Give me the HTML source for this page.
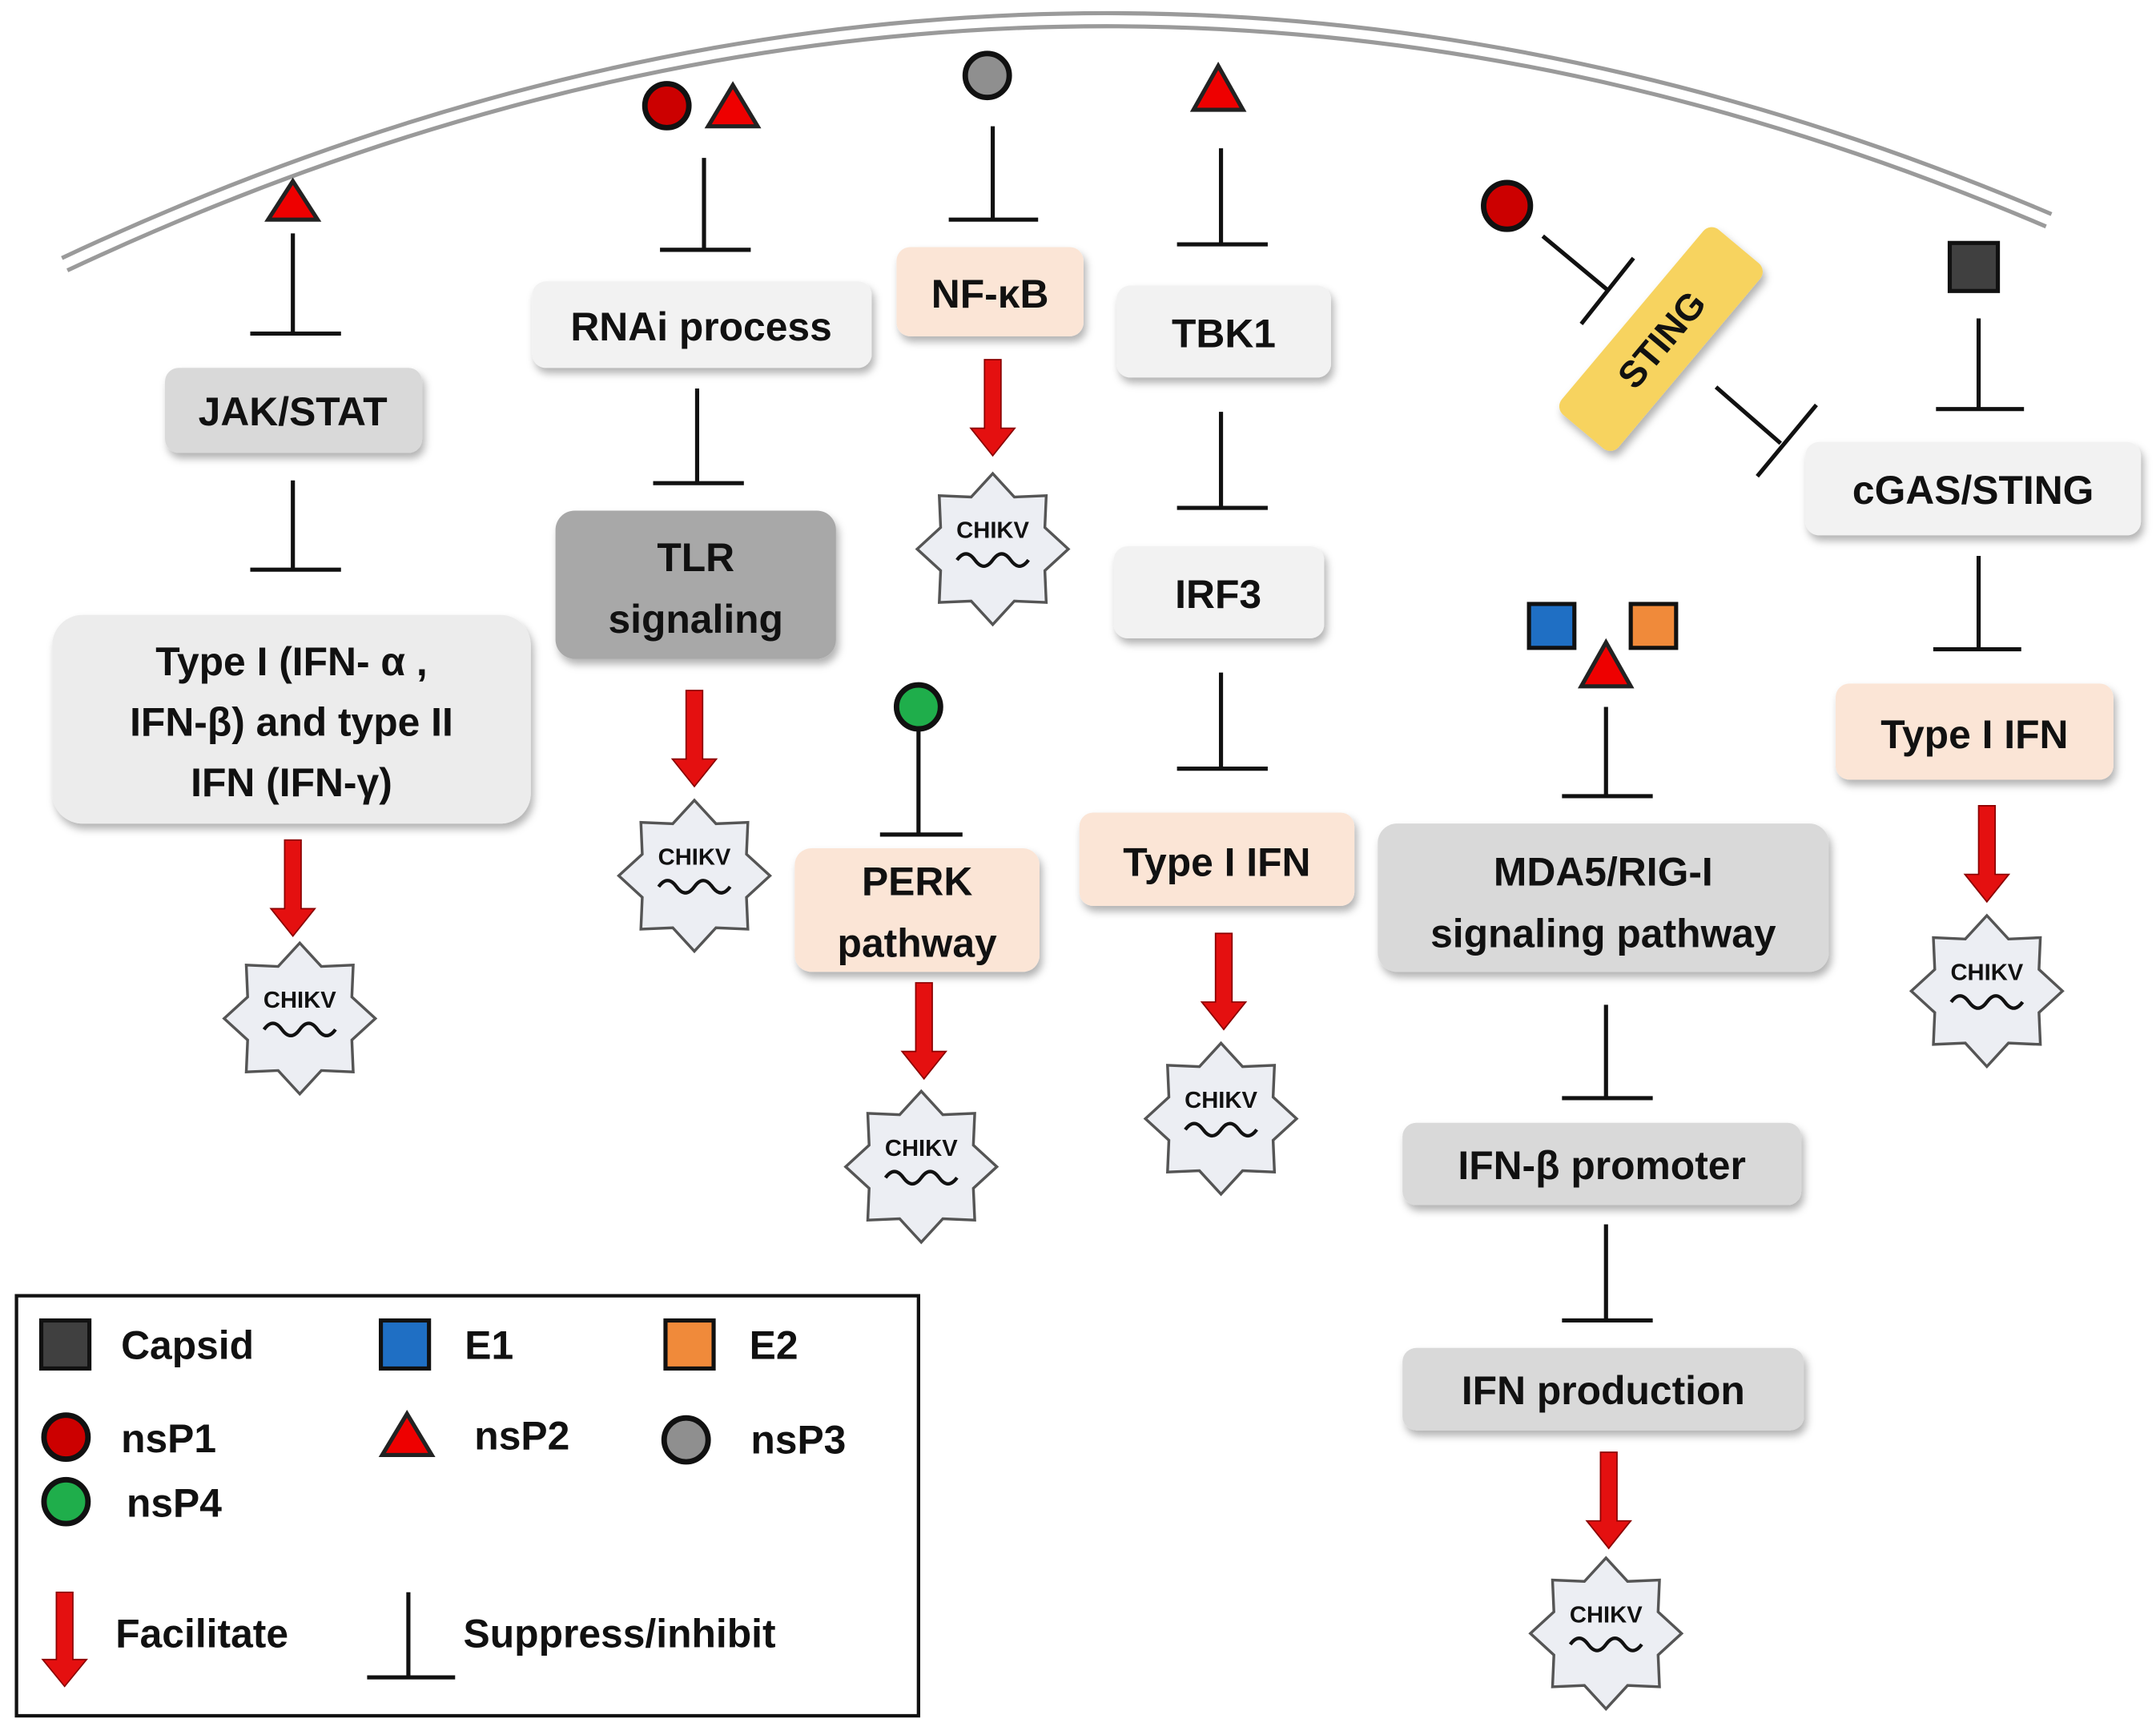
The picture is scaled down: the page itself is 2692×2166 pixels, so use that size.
<!DOCTYPE html>
<html><head><meta charset="utf-8"><style>
html,body{margin:0;padding:0;background:#fff}
svg{display:block}
text{font-family:"Liberation Sans",sans-serif;font-weight:bold;fill:#111}
</style></head><body>
<svg width="2692" height="2166" viewBox="0 0 1568 1264" preserveAspectRatio="none" xmlns="http://www.w3.org/2000/svg">
<defs>
<filter id="sh" x="-10%" y="-10%" width="130%" height="140%"><feDropShadow dx="2" dy="4" stdDeviation="3" flood-color="#000" flood-opacity="0.3"/></filter>
<g id="star">
<path d="M0,-55 L15.7,-37.9 L38.9,-38.9 L37.9,-15.7 L55,0 L37.9,15.7 L38.9,38.9 L15.7,37.9 L0,55 L-15.7,37.9 L-38.9,38.9 L-37.9,15.7 L-55,0 L-37.9,-15.7 L-38.9,-38.9 L-15.7,-37.9 Z" fill="#eceef3" stroke="#555" stroke-width="2"/>
<text x="0" y="-8" font-size="17" text-anchor="middle">CHIKV</text>
<path d="M-26,8 q6.5,-9 13,0 t13,0 t13,0 t13,0" fill="none" stroke="#111" stroke-width="2.5"/>
</g>
<path id="arr" d="M-6,0 H6 V50 H16 L0,70 L-16,50 H-6 Z" fill="#e41010" stroke="#8a0000" stroke-width="1"/>
</defs>
<g fill="none" stroke="#9a9a9a" stroke-width="3">
<path d="M45,188 Q770,-152 1492,156"/>
<path d="M49,197 Q770,-142 1488,165"/>
</g>
<g stroke="#111" stroke-width="3" fill="none">
<!-- JAK/STAT -->
<path d="M213,170 V243 M182,243 H248"/>
<path d="M213,350 V415 M182,415 H248"/>
<!-- RNAi -->
<path d="M512,115 V182 M480,182 H546"/>
<path d="M507,283 V352 M475,352 H541"/>
<!-- NF-kB -->
<path d="M722,92 V160 M690,160 H755"/>
<!-- PERK -->
<path d="M668,532 V608 M640,608 H700"/>
<!-- TBK1 -->
<path d="M888,108 V178 M856,178 H922"/>
<path d="M888,300 V370 M856,370 H922"/>
<path d="M888,490 V560 M856,560 H922"/>
<!-- STING -->
<path d="M1122,172 L1170,212 M1150,236 L1188,188"/>
<path d="M1248,282 L1295,323 M1278,347 L1321,295"/>
<!-- cGAS -->
<path d="M1439,232 V298 M1408,298 H1472"/>
<path d="M1439,405 V473 M1406,473 H1470"/>
<!-- MDA5 -->
<path d="M1168,515 V580 M1136,580 H1202"/>
<path d="M1168,732 V800 M1136,800 H1202"/>
<path d="M1168,892 V962 M1136,962 H1202"/>
</g>
<!-- markers -->
<polygon points="213,132 195,160 231,160" fill="#e00" stroke="#222" stroke-width="3"/>
<circle cx="485" cy="77" r="16" fill="#cc0000" stroke="#111" stroke-width="4"/>
<polygon points="533,62 515,92 551,92" fill="#e00" stroke="#222" stroke-width="3"/>
<circle cx="718" cy="55" r="16" fill="#8f8f8f" stroke="#111" stroke-width="4"/>
<polygon points="886,48 868,80 904,80" fill="#e00" stroke="#222" stroke-width="3"/>
<circle cx="1096" cy="150" r="17" fill="#cc0000" stroke="#111" stroke-width="4"/>
<rect x="1418" y="177" width="35" height="35" fill="#404040" stroke="#111" stroke-width="3"/>
<circle cx="668" cy="515" r="16" fill="#1fae4b" stroke="#111" stroke-width="4"/>
<rect x="1112" y="440" width="33" height="32" fill="#1f6fc4" stroke="#111" stroke-width="3"/>
<rect x="1186" y="440" width="33" height="32" fill="#f08a3a" stroke="#111" stroke-width="3"/>
<polygon points="1168,468 1150,500 1186,500" fill="#e00" stroke="#222" stroke-width="3"/>
<!-- boxes -->
<g filter="url(#sh)">
<rect x="120" y="268" width="187" height="62" rx="10" fill="#d9d9d9"/>
<rect x="38" y="448" width="348" height="152" rx="22" fill="#ececec"/>
<rect x="387" y="205" width="247" height="63" rx="10" fill="#f2f2f2"/>
<rect x="404" y="372" width="204" height="108" rx="14" fill="#a8a8a8"/>
<rect x="652" y="180" width="136" height="65" rx="10" fill="#fbe5d6"/>
<rect x="578" y="618" width="178" height="90" rx="12" fill="#fbe5d6"/>
<rect x="812" y="208" width="156" height="67" rx="10" fill="#f2f2f2"/>
<rect x="810" y="398" width="153" height="67" rx="10" fill="#f2f2f2"/>
<rect x="785" y="592" width="200" height="68" rx="10" fill="#fbe5d6"/>
<rect x="1313" y="322" width="244" height="68" rx="10" fill="#f2f2f2"/>
<rect x="1335" y="498" width="202" height="70" rx="10" fill="#fbe5d6"/>
<rect x="1002" y="600" width="328" height="108" rx="14" fill="#d9d9d9"/>
<rect x="1020" y="818" width="290" height="60" rx="10" fill="#d9d9d9"/>
<rect x="1020" y="982" width="292" height="60" rx="10" fill="#d9d9d9"/>
<g transform="translate(1208,247) rotate(-50)"><rect x="-88" y="-27" width="176" height="54" rx="8" fill="#f7d35e"/></g>
</g>
<g font-size="29" text-anchor="middle">
<text x="213" y="310">JAK/STAT</text>
<text x="212" y="492">Type I (IFN- α ,</text>
<text x="212" y="536">IFN-β) and type II</text>
<text x="212" y="580">IFN (IFN-γ)</text>
<text x="510" y="248">RNAi process</text>
<text x="506" y="416">TLR</text>
<text x="506" y="461">signaling</text>
<text x="720" y="224">NF-κB</text>
<text x="667" y="652">PERK</text>
<text x="667" y="697">pathway</text>
<text x="890" y="253">TBK1</text>
<text x="886" y="443">IRF3</text>
<text x="885" y="638">Type I IFN</text>
<text x="1435" y="367">cGAS/STING</text>
<text x="1436" y="545">Type I IFN</text>
<text x="1166" y="645">MDA5/RIG-I</text>
<text x="1166" y="690">signaling pathway</text>
<text x="1165" y="859">IFN-β promoter</text>
<text x="1166" y="1023">IFN production</text>
<text transform="translate(1208,247) rotate(-50)" x="0" y="10" font-size="27">STING</text>
</g>
<!-- arrows -->
<use href="#arr" transform="translate(213,612)"/>
<use href="#arr" transform="translate(505,503)"/>
<use href="#arr" transform="translate(722,262)"/>
<use href="#arr" transform="translate(672,716)"/>
<use href="#arr" transform="translate(890,680)"/>
<use href="#arr" transform="translate(1445,587)"/>
<use href="#arr" transform="translate(1170,1058)"/>
<!-- stars -->
<use href="#star" transform="translate(218,742)"/>
<use href="#star" transform="translate(505,638)"/>
<use href="#star" transform="translate(722,400)"/>
<use href="#star" transform="translate(670,850)"/>
<use href="#star" transform="translate(888,815)"/>
<use href="#star" transform="translate(1445,722)"/>
<use href="#star" transform="translate(1168,1190)"/>
<!-- legend -->
<rect x="12" y="944" width="656" height="306" fill="none" stroke="#111" stroke-width="2.5"/>
<rect x="30" y="962" width="35" height="35" fill="#404040" stroke="#111" stroke-width="3"/>
<rect x="277" y="962" width="35" height="35" fill="#1f6fc4" stroke="#111" stroke-width="3"/>
<rect x="484" y="962" width="35" height="35" fill="#f08a3a" stroke="#111" stroke-width="3"/>
<circle cx="48" cy="1047" r="16" fill="#cc0000" stroke="#111" stroke-width="4"/>
<polygon points="296,1030 278,1060 314,1060" fill="#e00" stroke="#222" stroke-width="3"/>
<circle cx="499" cy="1049" r="16" fill="#8f8f8f" stroke="#111" stroke-width="4"/>
<circle cx="48" cy="1094" r="16" fill="#1fae4b" stroke="#111" stroke-width="4"/>
<use href="#arr" transform="translate(47,1160) scale(1,0.98)"/>
<path d="M297,1160 V1222 M267,1222 H331" stroke="#111" stroke-width="3" fill="none"/>
<g font-size="29">
<text x="88" y="990">Capsid</text>
<text x="338" y="990">E1</text>
<text x="545" y="990">E2</text>
<text x="88" y="1058">nsP1</text>
<text x="345" y="1056">nsP2</text>
<text x="546" y="1059">nsP3</text>
<text x="92" y="1105">nsP4</text>
<text x="84" y="1200">Facilitate</text>
<text x="337" y="1200">Suppress/inhibit</text>
</g>
</svg>
</body></html>
